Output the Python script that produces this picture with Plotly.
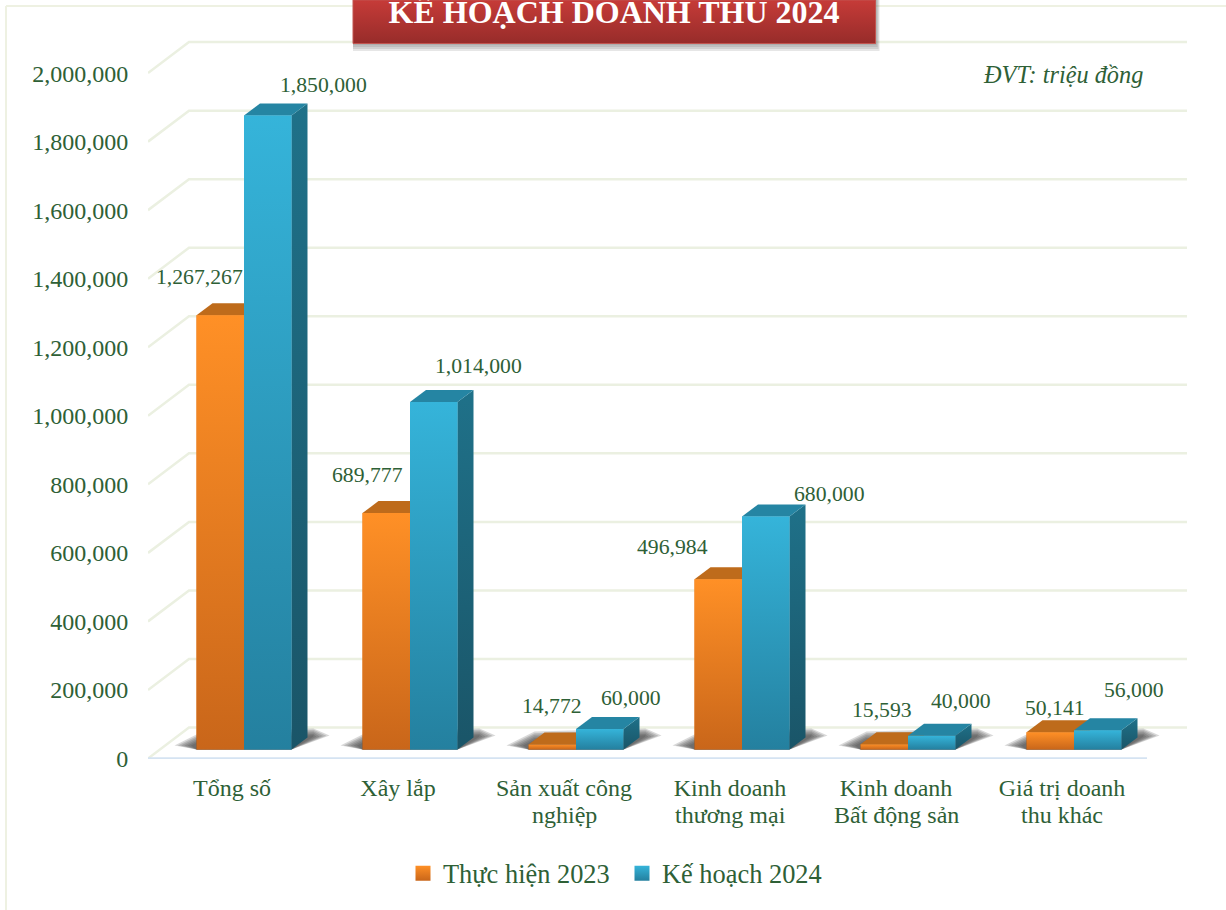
import plotly.graph_objects as go

categories = ["Tổng số", "Xây lắp", "Sản xuất công<br>nghiệp", "Kinh doanh<br>thương mại",
              "Kinh doanh<br>Bất động sản", "Giá trị doanh<br>thu khác"]
actual_2023 = [1267267, 689777, 14772, 496984, 15593, 50141]
plan_2024 = [1850000, 1014000, 60000, 680000, 40000, 56000]
y_ticks = [0, 200000, 400000, 600000, 800000, 1000000, 1200000, 1400000, 1600000, 1800000, 2000000]
name_a, name_b = "Thực hiện 2023", "Kế hoạch 2024"
label_shift_a = [(-21, 38), (-19, 38), (0, 38), (-46, 32), (-2, 34), (5, 24)]
label_shift_b = [(56, 31), (45, 36), (31, 31), (64, 22), (29, 35), (36, 40)]

W, H = 1226, 910
L, B = 148, 151
PW, PH = W - L, H - B
SCALE = 685.4 / 2000000      # px per unit
CAT_PX, CAT0_PX = 166, 232
FONT = "Liberation Serif"
GREEN = "#2E6036"

x_rng = [(L - CAT0_PX) / CAT_PX, (W - CAT0_PX) / CAT_PX]
def axis_range(zero_px):
    return [(zero_px - (H - B)) / SCALE, (zero_px - 0) / SCALE]
y_rng = axis_range(758.5)
y2_rng = axis_range(749.5)
ux = lambda px: px / CAT_PX
uy = lambda px: px / SCALE

fig = go.Figure()

# walls and floor
GRID = "#EBF0E1"
DX, DY = 41, 31
gx, gy = [], []
for t in y_ticks:
    x0 = ux(148 - CAT0_PX)
    gx += [x0, x0 + ux(DX), ux(1187 - CAT0_PX), None]
    gy += [t, t + uy(DY), t + uy(DY), None]
fig.add_trace(go.Scatter(x=gx, y=gy, mode="lines", line=dict(color=GRID, width=2.5),
                         showlegend=False, hoverinfo="skip"))
fig.add_trace(go.Scatter(x=[ux(148 - CAT0_PX), ux(1147 - CAT0_PX)], y=[0, 0], mode="lines",
                         line=dict(color="#D5E3F2", width=2.5), showlegend=False, hoverinfo="skip"))

BAR_W = 47.5
OFF_A = 196.5 - 232
OFF_B = 244 - 232
BDX, BDY = 16, 12

# base bars
fig.add_trace(go.Bar(x=list(range(6)), y=actual_2023, width=ux(BAR_W), offset=ux(OFF_A), yaxis="y2",
                     marker=dict(color="#E37A20", line=dict(width=0)), name=name_a, showlegend=False,
                     hoverinfo="skip"))
fig.add_trace(go.Bar(x=list(range(6)), y=plan_2024, width=ux(BAR_W), offset=ux(OFF_B), yaxis="y2",
                     marker=dict(color="#2C9ABD", line=dict(width=0)), name=name_b, showlegend=False,
                     hoverinfo="skip"))

def poly(xs, ys, **kw):
    fig.add_trace(go.Scatter(x=xs, y=ys, yaxis="y2", mode="lines", fill="toself", line=dict(width=0),
                             showlegend=False, hoverinfo="skip", **kw))

# soft floor shadows: nested translucent polygons
SHADOW_LAYERS = [1.0, 0.85, 0.7, 0.55, 0.4, 0.25]
for i in range(6):
    l = i + ux(OFF_A)
    r = i + ux(OFF_B + BAR_W)
    for t in SHADOW_LAYERS:
        poly([l - ux(22 * t), l, r, r + ux(BDX + 22 * t), r + ux(BDX + 6), l + ux(6), l - ux(22 * t)],
             [uy(4), uy(0), uy(0), uy(BDY + 2 * t), uy(BDY + 9 * t), uy(7 + 11 * t), uy(4)],
             fillcolor="rgba(60,60,60,0.2)")

def bar3d(vals, off, top_col, side_grad, front_grad):
    for i, v in enumerate(vals):
        l = i + ux(off)
        r = l + ux(BAR_W)
        d = ux(BDX)
        e = uy(BDY)
        poly([r, r + d, r + d, r, r], [0, e, v + e, v, 0],
             fillgradient=dict(type="vertical", colorscale=side_grad))
        poly([l, r, r + d, l + d, l], [v, v, v + e, v + e, v], fillcolor=top_col)
        poly([l, r, r, l, l], [0, 0, v, v, 0],
             fillgradient=dict(type="vertical", colorscale=front_grad))

bar3d(actual_2023, OFF_A, "#BE6B1B", [[0, "#A85C15"], [1, "#B9661A"]], [[0, "#C9661A"], [1, "#FF9026"]])
bar3d(plan_2024, OFF_B, "#2585A3", [[0, "#1A5568"], [1, "#1F7189"]], [[0, "#24809F"], [1, "#35B4DA"]])

# data labels
for i in range(6):
    for v, off, (sx, sy) in ((actual_2023[i], OFF_A, label_shift_a[i]), (plan_2024[i], OFF_B, label_shift_b[i])):
        fig.add_annotation(x=i + ux(off + BAR_W / 2), y=v, yref="y2", text=f"{v:,}", showarrow=False,
                           xshift=sx, yshift=sy, font=dict(family=FONT, size=21.7, color=GREEN))

# title banner
bx0, bx1 = ux(353 - CAT0_PX), ux(875.5 - CAT0_PX)
top = y_rng[1]
for grow in (8, 6, 4, 2):
    xr = bx1 + ux(grow * 0.5)
    fig.add_trace(go.Scatter(x=[bx0, xr, xr, bx0, bx0],
                             y=[top - uy(43 + grow), top - uy(43 + grow), top, top, top - uy(43 + grow)],
                             mode="lines", fill="toself", line=dict(width=0),
                             fillcolor="rgba(90,90,90,0.15)", showlegend=False, hoverinfo="skip"))
fig.add_trace(go.Scatter(x=[bx0, bx1, bx1, bx0, bx0],
                         y=[top - uy(43.5), top - uy(43.5), top, top, top - uy(43.5)], mode="lines", fill="toself",
                         line=dict(width=1, color="#C25550"),
                         fillgradient=dict(type="vertical", colorscale=[[0, "#972C2A"], [1, "#C63B38"]]),
                         showlegend=False, hoverinfo="skip"))

# legend carriers
fig.add_trace(go.Scatter(x=[None], y=[None], mode="markers", name=name_a,
                         marker=dict(symbol="square", size=15, color="#FF9026",
                                     gradient=dict(type="vertical", color="#C9661A"))))
fig.add_trace(go.Scatter(x=[None], y=[None], mode="markers", name=name_b,
                         marker=dict(symbol="square", size=15, color="#35B4DA",
                                     gradient=dict(type="vertical", color="#24809F"))))

fig.add_annotation(xref="paper", yref="paper", x=(1145 - L) / PW, y=(H - B - 74) / PH, xanchor="right",
                   yanchor="middle", showarrow=False, text="<i>ĐVT: triệu đồng</i>",
                   font=dict(family=FONT, size=24.3, color=GREEN))

# second lines of the category labels keep the reference's tighter line spacing
first_lines = [c.split("<br>")[0] for c in categories]
for i, c in enumerate(categories):
    if "<br>" in c:
        fig.add_annotation(x=i, xref="x", yref="paper", y=-(815 - (H - B)) / PH, yanchor="middle", showarrow=False,
                           text=c.split("<br>")[1], font=dict(family=FONT, size=24, color=GREEN))

# frame
for sh in (dict(x0=(6 - L) / PW, x1=(6 - L) / PW, y0=-B / PH, y1=(H - B - 6) / PH),
           dict(x0=(6 - L) / PW, x1=1, y0=(H - B - 6) / PH, y1=(H - B - 6) / PH)):
    fig.add_shape(type="line", xref="paper", yref="paper", line=dict(color="#EEF1E2", width=2), layer="below", **sh)

fig.update_layout(
    width=W, height=H, margin=dict(l=L, r=0, t=0, b=B, pad=0),
    paper_bgcolor="white", plot_bgcolor="rgba(0,0,0,0)", barmode="overlay", hovermode=False,
    title=dict(text="<b>KẾ HOẠCH DOANH THU 2024</b>", x=614 / W, xanchor="center", xref="container",
               y=1 - 12 / H, yanchor="middle", font=dict(family=FONT, size=32, color="white")),
    font=dict(family=FONT, color=GREEN),
    xaxis=dict(range=x_rng, tickmode="array", tickvals=list(range(6)), ticktext=first_lines, showgrid=False,
               zeroline=False, showline=False, ticks="outside", ticklen=7, tickcolor="rgba(0,0,0,0)",
               tickfont=dict(family=FONT, size=24, color=GREEN)),
    yaxis=dict(range=y_rng, tickmode="array", tickvals=y_ticks, tickformat=",d", showgrid=False, zeroline=False,
               showline=False, ticks="outside", ticklen=14, tickcolor="rgba(0,0,0,0)",
               tickfont=dict(family=FONT, size=24, color=GREEN)),
    yaxis2=dict(range=y2_rng, overlaying="y", visible=False),
    legend=dict(orientation="h", x=(403 - L) / PW, xanchor="left", y=-(873.5 - (H - B)) / PH, yanchor="middle",
                font=dict(family=FONT, size=26.4, color=GREEN), bgcolor="rgba(0,0,0,0)", itemwidth=30,
                entrywidth=174, entrywidthmode="pixels"),
)
fig.write_html("out.html", post_script="document.body.style.margin='0';", config={"displayModeBar": False})
